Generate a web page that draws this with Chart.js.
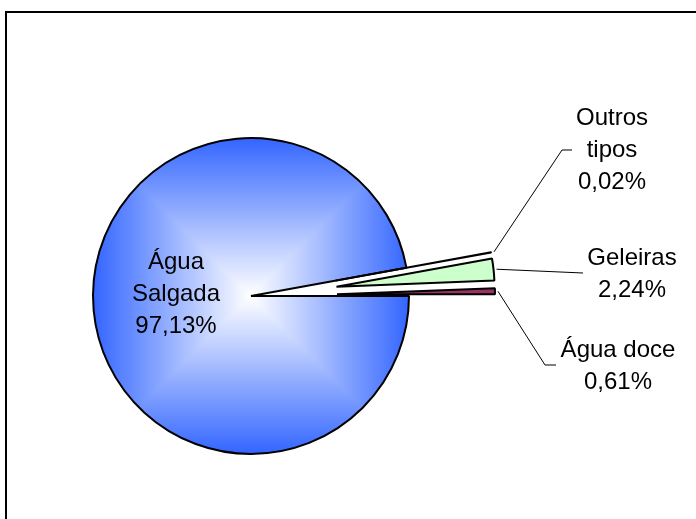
<!DOCTYPE html>
<html>
<head>
<meta charset="utf-8">
<script src="https://cdn.jsdelivr.net/npm/chart.js@4.4.0/dist/chart.umd.min.js"></script>
<style>
  html, body { margin: 0; padding: 0; background: #fff; }
  #wrap { position: relative; width: 696px; height: 519px; }
</style>
</head>
<body>
<div id="wrap"><canvas id="agua" width="696" height="519"></canvas></div>
<script>
// data
var categories = ["Outros tipos", "Geleiras", "Água doce", "Água Salgada"];
var values = [0.02, 2.24, 0.61, 97.13];
var labelLines = [["Outros", "tipos"], ["Geleiras"], ["Água doce"], ["Água", "Salgada"]];

// look
var PIE_RADIUS = 158;
var EXPLODE = [86, 86, 86, 0];
var SLICE_COLORS = ['#ffffff', '#ccffcc', '#993366', null]; // null = blue square gradient
var EDGE_BLUE = [51, 102, 255];
var FONT = '24px "Liberation Sans", Arial, sans-serif';
var LINE_H = 32;
// where each label block sits (first baseline) and the bends of its leader line
var LABEL_POS = [
  { x: 612, y: 125, bend: [[562, 150], [572, 150]] },
  { x: 632, y: 265, bend: [[583, 273]] },
  { x: 618, y: 357, bend: [[545, 365], [556, 365]] },
  { x: 176, y: 269, bend: null }
];

function pct(v) {
  return v.toFixed(2).replace('.', ',') + '%';
}

var fillCache = null;
function squareGradient(chart) {
  var a = chart.chartArea;
  if (!a) return 'rgb(' + EDGE_BLUE.join(',') + ')';
  if (fillCache) return fillCache;
  var cx = (a.left + a.right) / 2, cy = (a.top + a.bottom) / 2;
  var c = document.createElement('canvas');
  c.width = chart.width; c.height = chart.height;
  var g = c.getContext('2d');
  var img = g.createImageData(c.width, c.height);
  for (var y = 0; y < c.height; y++) {
    for (var x = 0; x < c.width; x++) {
      var t = Math.max(Math.abs(x + 0.5 - cx), Math.abs(y + 0.5 - cy)) / PIE_RADIUS;
      if (t > 1) t = 1;
      var k = (y * c.width + x) * 4;
      img.data[k] = 255 + (EDGE_BLUE[0] - 255) * t;
      img.data[k + 1] = 255 + (EDGE_BLUE[1] - 255) * t;
      img.data[k + 2] = 255 + (EDGE_BLUE[2] - 255) * t;
      img.data[k + 3] = 255;
    }
  }
  g.putImageData(img, 0, 0);
  fillCache = chart.ctx.createPattern(c, 'no-repeat');
  return fillCache;
}

function sliceFill(context) {
  var col = SLICE_COLORS[context.dataIndex];
  return col ? col : squareGradient(context.chart);
}

// pull the small slices out of the pie, like an exploded Excel pie
var explodePlugin = {
  id: 'explode',
  beforeDatasetDraw: function(chart, args) {
    var ctx = chart.ctx;
    var arcs = args.meta.data;
    for (var i = arcs.length - 1; i >= 0; i--) {
      var arc = arcs[i];
      var d = EXPLODE[i] || 0;
      var mid = (arc.startAngle + arc.endAngle) / 2;
      ctx.save();
      ctx.translate(Math.cos(mid) * d, Math.sin(mid) * d);
      arc.draw(ctx);
      ctx.restore();
    }
    return false;
  }
};

var labelPlugin = {
  id: 'sliceLabels',
  afterDraw: function(chart) {
    var ctx = chart.ctx;
    var arcs = chart.getDatasetMeta(0).data;
    ctx.save();
    // frame
    ctx.strokeStyle = '#000';
    ctx.lineWidth = 2;
    ctx.strokeRect(6, 12, 800, 600);

    arcs.forEach(function(arc, i) {
      var pos = LABEL_POS[i];
      var d = EXPLODE[i] || 0;
      var mid = (arc.startAngle + arc.endAngle) / 2;
      if (pos.bend) {
        var r = arc.outerRadius + d + 3;
        ctx.beginPath();
        ctx.moveTo(arc.x + Math.cos(mid) * r, arc.y + Math.sin(mid) * r);
        pos.bend.forEach(function(p) { ctx.lineTo(p[0], p[1]); });
        ctx.strokeStyle = '#000';
        ctx.lineWidth = 1;
        ctx.stroke();
      }
      var lines = labelLines[i].concat([pct(values[i])]);
      ctx.fillStyle = '#000';
      ctx.font = FONT;
      ctx.textAlign = 'center';
      ctx.textBaseline = 'alphabetic';
      lines.forEach(function(s, j) {
        ctx.fillText(s, pos.x, pos.y + j * LINE_H);
      });
    });
    ctx.restore();
  }
};

var ctx = document.getElementById('agua').getContext('2d');
var chart = new Chart(ctx, {
  type: 'pie',
  data: {
    labels: categories,
    datasets: [{
      data: values,
      backgroundColor: sliceFill,
      borderColor: '#000',
      borderWidth: 2,
      radius: PIE_RADIUS,
      rotation: 90 - (values[0] + values[1] + values[2]) * 3.6,
      clip: false
    }]
  },
  options: {
    responsive: false,
    animation: false,
    events: [],
    layout: { padding: { left: 0, right: 194, top: 73, bottom: 0 } },
    plugins: {
      legend: { display: false },
      tooltip: { enabled: false }
    }
  },
  plugins: [explodePlugin, labelPlugin]
});
</script>
</body>
</html>
